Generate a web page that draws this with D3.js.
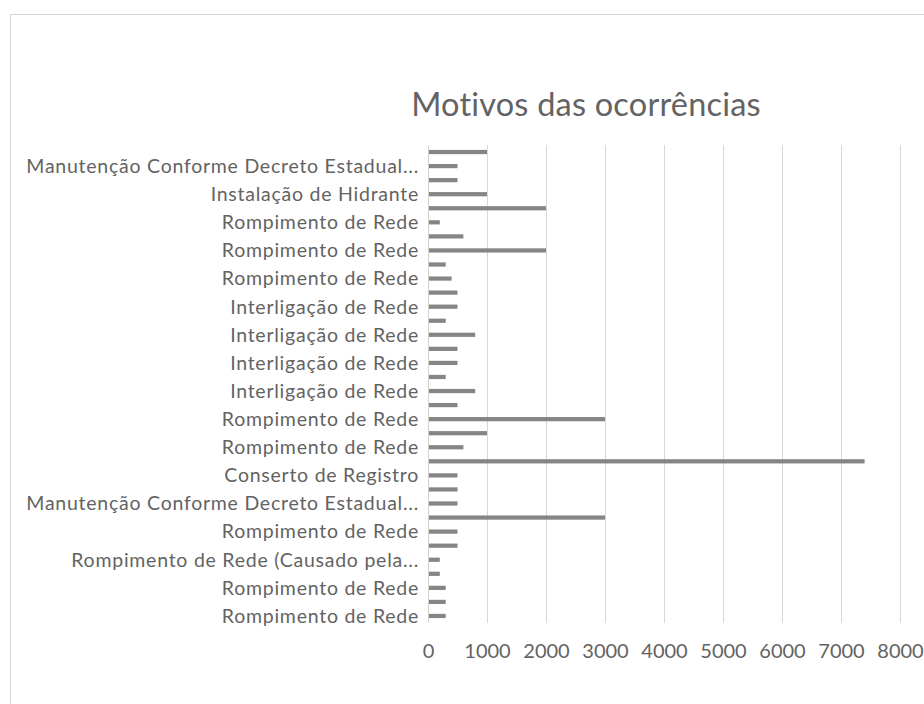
<!DOCTYPE html>
<html>
<head>
<meta charset="utf-8">
<script src="https://cdn.jsdelivr.net/npm/d3@7"></script>
<style>
  body { margin: 0; background: #fff; }
  svg text { font-family: Lato, "Open Sans", sans-serif; fill: #636363; }
</style>
</head>
<body>
<svg id="chart" width="924" height="704"></svg>
<script>
// categories listed top to bottom; null = label hidden by Excel (every other one)
var categories = [
  null, "Manutenção Conforme Decreto Estadual...",
  null, "Instalação de Hidrante",
  null, "Rompimento de Rede",
  null, "Rompimento de Rede",
  null, "Rompimento de Rede",
  null, "Interligação de Rede",
  null, "Interligação de Rede",
  null, "Interligação de Rede",
  null, "Interligação de Rede",
  null, "Rompimento de Rede",
  null, "Rompimento de Rede",
  null, "Conserto de Registro",
  null, "Manutenção Conforme Decreto Estadual...",
  null, "Rompimento de Rede",
  null, "Rompimento de Rede (Causado pela...",
  null, "Rompimento de Rede",
  null, "Rompimento de Rede"
];
var values = [
  1000, 500, 500, 1000, 2000, 200, 600, 2000, 300, 400, 500, 500,
  300, 800, 500, 500, 300, 800, 500, 3000, 1000, 600, 7400,
  500, 500, 500, 3000, 500, 500, 200, 200, 300, 300, 300
];
var xTicks = [0, 1000, 2000, 3000, 4000, 5000, 6000, 7000, 8000];
var title = "Motivos das ocorrências";

var svg = d3.select("#chart");

// outer chart border (scanned, faint)
svg.append("path")
  .attr("d", "M10.5,704 V14.5 H924")
  .attr("fill", "none")
  .attr("stroke", "#d6d6d6");

var plotLeft = 428, plotRight = 900, plotTop = 145, plotBottom = 623;

var x = d3.scaleLinear().domain([0, 8000]).range([plotLeft, plotRight]);
var y = d3.scaleBand().domain(d3.range(values.length)).range([plotTop, plotBottom]).paddingInner(0.7).paddingOuter(0.35);

// gridlines
svg.append("g")
  .selectAll("line")
  .data(xTicks.slice(1))
  .join("line")
  .attr("x1", function (d) { return x(d) + 0.5; })
  .attr("x2", function (d) { return x(d) + 0.5; })
  .attr("y1", plotTop)
  .attr("y2", plotBottom)
  .attr("stroke", "#d9d9d9");

// category axis line
svg.append("line")
  .attr("x1", plotLeft + 0.5).attr("x2", plotLeft + 0.5)
  .attr("y1", plotTop).attr("y2", plotBottom)
  .attr("stroke", "#d0d0d0");

// bars
svg.append("g")
  .selectAll("rect")
  .data(values)
  .join("rect")
  .attr("x", x(0) + 1)
  .attr("y", function (d, i) { return y(i); })
  .attr("width", function (d) { return x(d) - x(0) - 1; })
  .attr("height", y.bandwidth())
  .attr("fill", "#858585");

// category labels
svg.append("g")
  .selectAll("text")
  .data(categories)
  .join("text")
  .attr("x", plotLeft - 9)
  .attr("y", function (d, i) { return y(i) + y.bandwidth() / 2; })
  .attr("dy", "0.35em")
  .attr("text-anchor", "end")
  .style("font-size", "19.5px")
  .style("letter-spacing", "0.75px")
  .text(function (d) { return d || ""; });

// value axis labels
svg.append("g")
  .selectAll("text")
  .data(xTicks)
  .join("text")
  .attr("x", function (d) { return x(d) + 0.5; })
  .attr("y", 651)
  .attr("dy", "0.35em")
  .attr("text-anchor", "middle")
  .style("font-size", "20px")
  .text(function (d) { return d; });

svg.append("text")
  .attr("x", 586)
  .attr("y", 116)
  .attr("text-anchor", "middle")
  .style("font-size", "32.5px")
  .style("letter-spacing", "0.2px")
  .text(title);
</script>
</body>
</html>
